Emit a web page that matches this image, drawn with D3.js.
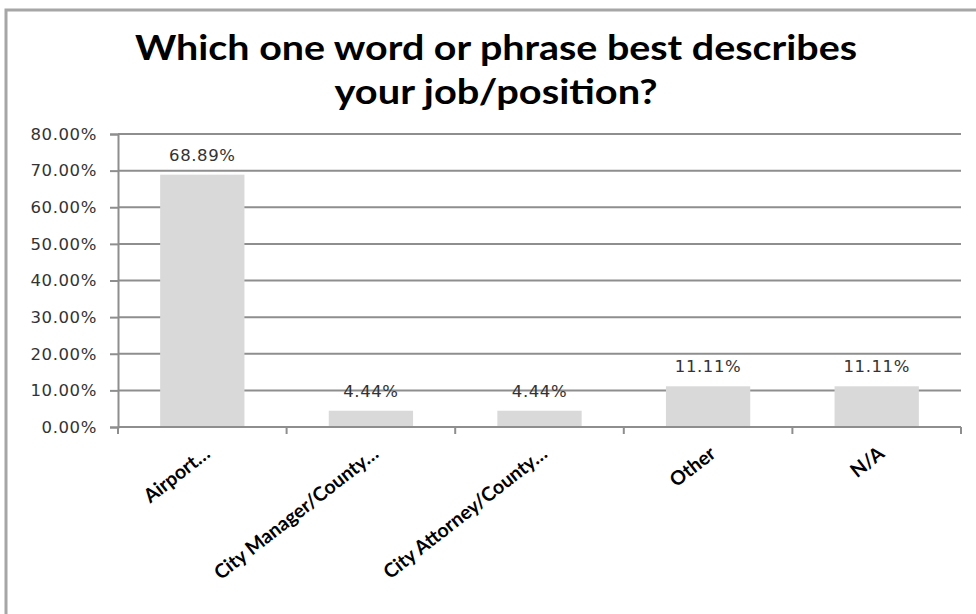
<!DOCTYPE html>
<html>
<head>
<meta charset="utf-8">
<script src="https://cdn.jsdelivr.net/npm/d3@7"></script>
<style>
  html, body { margin: 0; padding: 0; background: #fff; }
  svg { display: block; }
</style>
</head>
<body>
<svg id="chart" width="976" height="614"></svg>
<script>
// Survey answers: share of respondents per job description
const categories = ["Airport…", "City Manager/County…", "City Attorney/County…", "Other", "N/A"];
const shares = [0.6889, 0.0444, 0.0444, 0.1111, 0.1111];
const yTicks = [0, 0.1, 0.2, 0.3, 0.4, 0.5, 0.6, 0.7, 0.8];
const titleLines = ["Which one word or phrase best describes", "your job/position?"];

const svg = d3.select("#chart");
const W = 976, H = 614;
const plot = { left: 118, right: 961, top: 134, bottom: 427 };
const gridColor = "#8e8e8e";

// outer frame (only the top and left edges fall inside the canvas)
svg.append("rect").attr("width", W).attr("height", H).attr("fill", "#fff");
svg.append("path")
  .attr("d", `M6,${H} L6,10 L${W},10`)
  .attr("fill", "none")
  .attr("stroke", "#a6a6a6")
  .attr("stroke-width", 3);

// title
const title = svg.append("g").attr("font-family", "Lato, 'Open Sans', sans-serif")
  .attr("font-weight", "bold").attr("fill", "#000").attr("font-size", 35);
title.append("text").attr("x", 496).attr("y", 60).attr("text-anchor", "middle")
  .attr("textLength", 722).attr("lengthAdjust", "spacingAndGlyphs").text(titleLines[0]);
title.append("text").attr("x", 496).attr("y", 104).attr("text-anchor", "middle")
  .attr("textLength", 323).attr("lengthAdjust", "spacingAndGlyphs").text(titleLines[1]);

const x = d3.scaleBand().domain(categories).range([plot.left, plot.right])
  .paddingInner(0.5).paddingOuter(0.25);
const y = d3.scaleLinear().domain([0, 0.8]).range([plot.bottom, plot.top]);
const pct = d3.format(".2%");

// horizontal gridlines
svg.append("g").selectAll("line").data(yTicks.filter(t => t > 0)).join("line")
  .attr("x1", plot.left).attr("x2", plot.right)
  .attr("y1", d => y(d)).attr("y2", d => y(d))
  .attr("stroke", gridColor).attr("stroke-width", 2);

// y axis
const yAxis = svg.append("g").attr("transform", `translate(${plot.left},0)`)
  .call(d3.axisLeft(y).tickValues(yTicks).tickFormat(pct).tickSize(8).tickPadding(13));
yAxis.select(".domain").attr("stroke", gridColor).attr("stroke-width", 2);
yAxis.selectAll(".tick line").attr("stroke", gridColor).attr("stroke-width", 2);
yAxis.selectAll(".tick text")
  .attr("font-family", "'DejaVu Sans', Verdana, sans-serif")
  .attr("font-size", 16.5).attr("letter-spacing", 0.6)
  .attr("fill", "#333");

// bars
svg.append("g").selectAll("rect").data(categories).join("rect")
  .attr("x", d => x(d)).attr("width", x.bandwidth())
  .attr("y", (d, i) => y(shares[i]))
  .attr("height", (d, i) => y(0) - y(shares[i]))
  .attr("fill", "#d9d9d9");

// value labels
svg.append("g").selectAll("text").data(categories).join("text")
  .attr("x", d => x(d) + x.bandwidth() / 2)
  .attr("y", (d, i) => y(shares[i]) - 14)
  .attr("text-anchor", "middle")
  .attr("font-family", "'DejaVu Sans', Verdana, sans-serif")
  .attr("font-size", 16.5).attr("letter-spacing", 0.6)
  .attr("fill", "#333")
  .text((d, i) => pct(shares[i]));

// x axis line and boundary ticks
const half = x.step() * x.paddingInner() / 2;
const bounds = categories.map(d => x(d) - half).concat([plot.right]);
bounds[0] = plot.left;
svg.append("line").attr("x1", plot.left).attr("x2", plot.right)
  .attr("y1", y(0)).attr("y2", y(0))
  .attr("stroke", gridColor).attr("stroke-width", 2);
svg.append("g").selectAll("line").data(bounds).join("line")
  .attr("x1", d => d).attr("x2", d => d)
  .attr("y1", y(0)).attr("y2", y(0) + 7)
  .attr("stroke", gridColor).attr("stroke-width", 2);

// rotated category labels
svg.append("g").selectAll("text").data(categories).join("text")
  .attr("transform", d => `translate(${x(d) + x.bandwidth() / 2 + 9},${y(0) + 29}) rotate(-38)`)
  .attr("text-anchor", "end")
  .attr("font-family", "Lato, 'Open Sans', sans-serif")
  .attr("font-weight", "bold").attr("font-size", 19.5)
  .attr("fill", "#000")
  .text(d => d);
</script>
</body>
</html>
